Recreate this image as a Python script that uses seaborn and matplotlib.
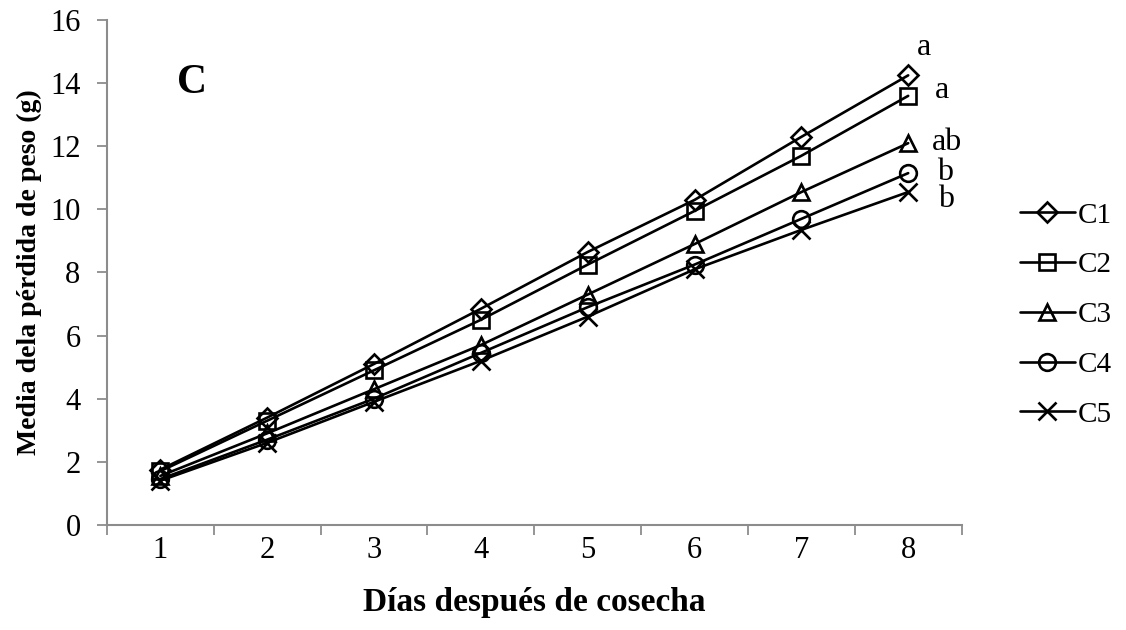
import matplotlib
matplotlib.use("Agg")
import matplotlib.pyplot as plt
import pandas as pd
import seaborn as sns

# Data
dias = [1, 2, 3, 4, 5, 6, 7, 8]
c1 = [1.75, 3.4, 5.1, 6.85, 8.65, 10.3, 12.3, 14.25]
c2 = [1.7, 3.3, 4.9, 6.5, 8.25, 9.95, 11.7, 13.6]
c3 = [1.55, 2.9, 4.3, 5.7, 7.3, 8.9, 10.55, 12.1]
c4 = [1.45, 2.7, 4.0, 5.45, 6.9, 8.25, 9.7, 11.15]
c5 = [1.4, 2.6, 3.9, 5.2, 6.6, 8.1, 9.35, 10.55]
series = ["C1", "C2", "C3", "C4", "C5"]
letras = ["a", "a", "ab", "b", "b"]

df = pd.DataFrame(
    {
        "dia": dias * 5,
        "valor": c1 + c2 + c3 + c4 + c5,
        "serie": [s for s in series for _ in dias],
    }
)
# categorical x axis like the Excel original
df["pos"] = df["dia"] - 1

sns.set_style("white")
plt.rcParams["font.family"] = ["Liberation Serif", "DejaVu Serif"]
plt.rcParams["text.color"] = "black"
plt.rcParams["axes.labelcolor"] = "black"
plt.rcParams["xtick.color"] = "black"
plt.rcParams["ytick.color"] = "black"

fig = plt.figure(figsize=(11.26, 6.3), dpi=100)
ax = fig.add_axes([0.095, 0.167, 0.759, 0.801])

# seaborn won't mix filled and line markers, the cross is set afterwards
markers = {"C1": "D", "C2": "s", "C3": "^", "C4": "o", "C5": "P"}
sns.lineplot(
    data=df,
    x="pos",
    y="valor",
    hue="serie",
    style="serie",
    markers=markers,
    dashes=False,
    palette=["black"] * 5,
    legend=False,
    ax=ax,
    linewidth=1.9,
    markersize=12,
    markeredgewidth=1.9,
    markeredgecolor="black",
    markerfacecolor="none",
)

for line in ax.lines:
    line.set_markerfacecolor("none")
    line.set_markeredgecolor("black")
ax.lines[0].set_markersize(10)
ax.lines[4].set_marker("x")
ax.lines[4].set_markersize(13)

# significance letters next to the last points
label_x = [7.08, 7.25, 7.22, 7.27, 7.28]
label_y = [14.9, 13.53, 11.88, 10.93, 10.08]
for lx, ly, txt in zip(label_x, label_y, letras):
    ax.text(lx, ly, txt, fontsize=23, ha="left", va="baseline")

ax.text(0.3, 14.0, "C", fontsize=30, fontweight="bold", ha="center", va="center")

ax.set_xlim(-0.5, 7.5)
ax.set_ylim(0, 16)
ax.set_yticks(range(0, 17, 2))
ax.set_xticks([i + 0.5 for i in range(-1, 8)], minor=False)
ax.set_xticklabels([])
ax.set_xticks(range(8), minor=True)
ax.set_xticklabels([str(d) for d in dias], minor=True)
ax.tick_params(bottom=True, left=True)
ax.tick_params(axis="x", which="minor", length=0, labelsize=22, pad=8)
ax.tick_params(axis="x", which="major", length=7, color="#8c8c8c", width=1.3, direction="out")
ax.tick_params(axis="y", length=7, color="#8c8c8c", width=1.3, direction="out", labelsize=22, pad=12)

for side in ["top", "right"]:
    ax.spines[side].set_visible(False)
for side in ["left", "bottom"]:
    ax.spines[side].set_color("#8c8c8c")
    ax.spines[side].set_linewidth(1.5)

ax.set_xlabel("Días después de cosecha", fontsize=24, fontweight="bold", labelpad=16)
ax.set_ylabel("Media dela pérdida de peso (g)", fontsize=20, fontweight="bold", labelpad=6)

ax.legend(
    ax.lines[:5],
    series,
    loc="center left",
    bbox_to_anchor=(1.068, 0.416),
    borderaxespad=0,
    borderpad=0,
    frameon=False,
    fontsize=21,
    handlelength=1.9,
    labelspacing=0.8,
    handletextpad=0.1,
)

fig.savefig("out.png", dpi=100)
